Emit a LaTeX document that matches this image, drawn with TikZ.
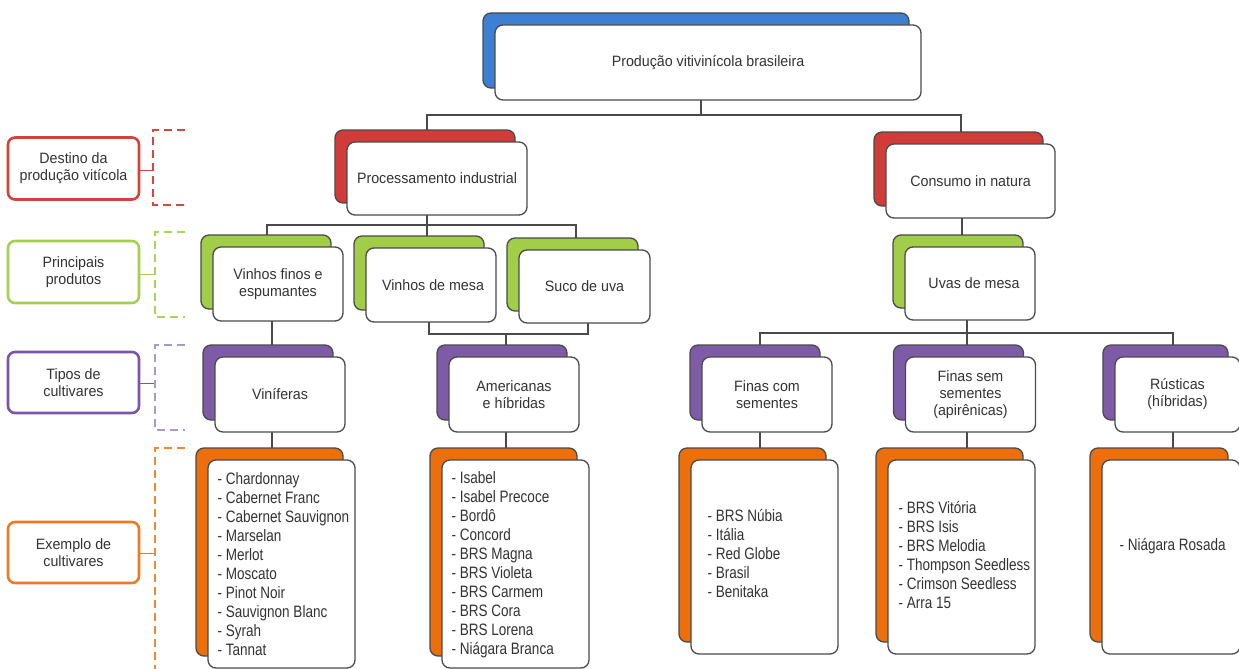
\documentclass[tikz,border=0pt]{standalone}
\usepackage{fontspec}
\setmainfont[FakeStretch=0.95]{Liberation Sans}
\newfontfamily\listfont[FakeStretch=0.82]{Liberation Sans}
\usetikzlibrary{shadows,backgrounds}
\definecolor{edge}{HTML}{4A4A4A}
\definecolor{txt}{HTML}{333333}
\definecolor{cblue}{HTML}{3D7FD3}
\definecolor{cred}{HTML}{D13C38}
\definecolor{cgreen}{HTML}{A2CD48}
\definecolor{cpurple}{HTML}{7D5BA6}
\definecolor{corange}{HTML}{EC6F0C}
\definecolor{lred}{HTML}{D7413C}
\definecolor{lgreen}{HTML}{A3D14F}
\definecolor{lpurple}{HTML}{7B55A8}
\definecolor{lorange}{HTML}{EE7B22}
\definecolor{dred}{HTML}{D9453F}
\definecolor{dgreen}{HTML}{A9D35A}
\definecolor{dpurple}{HTML}{A69BD0}
\definecolor{dorange}{HTML}{EE8A35}
\tikzset{
  front/.style={draw=edge, fill=white, rounded corners=8pt, line width=1.3pt,
    inner sep=0pt, align=center, text=txt,
    font={\fontsize{15}{17}\selectfont}},
  sh/.style={general shadow={fill=#1, draw=edge, line width=1.3pt,
    shadow xshift=-12pt, shadow yshift=12pt}},
  lbl/.style={front, minimum width=130pt, minimum height=75pt},
  lstbox/.style={front, minimum width=147pt},
  lsttext/.style={anchor=west, inner sep=0pt, align=left, text=txt,
    font={\listfont\fontsize{16.5}{19}\selectfont}},
  legbox/.style={draw=#1, line width=2.6pt, rounded corners=7pt, fill=white,
    minimum width=131pt, minimum height=62pt, inner sep=0pt, align=center,
    text=txt, font={\fontsize{15}{17}\selectfont}},
  legline/.style={draw=#1, line width=1pt},
  brk/.style={draw=#1, line width=1.3pt, dash pattern=on 8pt off 5pt},
  conn/.style={draw=edge, line width=1.4pt}
}
\begin{document}
\begin{tikzpicture}[x=1pt,y=-1pt]
\useasboundingbox (0,0) rectangle (1239,669);

% top
\node[front, sh=cblue, minimum width=426pt, minimum height=75pt] (top) at (708,62.5) {Produção vitivinícola brasileira};
% destination
\node[front, sh=cred, minimum width=180pt, minimum height=73pt] (proc) at (437,178.5) {Processamento industrial};
\node[front, sh=cred, minimum width=169pt, minimum height=74pt] (cons) at (970.5,181) {Consumo in natura};
% products
\node[lbl, sh=cgreen, minimum height=74pt] (vf) at (278,284) {Vinhos finos e\\espumantes};
\node[lbl, sh=cgreen, minimum height=74pt] (vm) at (431,285) {\hspace*{4pt}Vinhos de mesa};
\node[lbl, sh=cgreen, minimum width=131pt, minimum height=73pt] (su) at (584.5,286.5) {Suco de uva};
\node[lbl, sh=cgreen, minimum height=73pt] (uv) at (970,283.5) {\hspace*{8pt}Uvas de mesa};
% cultivar types
\node[lbl, sh=cpurple] (vin) at (280,394.5) {Viníferas};
\node[lbl, sh=cpurple] (am) at (514,394.5) {Americanas\\e híbridas};
\node[lbl, sh=cpurple] (fc) at (767,394.5) {Finas com\\sementes};
\node[lbl, sh=cpurple] (fs) at (970.5,394.5) {Finas sem\\sementes\\(apirênicas)};
\node[lbl, sh=cpurple, minimum width=125pt] (ru) at (1177.5,394.5) {Rústicas\\(híbridas)};
% list boxes
\node[lstbox, sh=corange, minimum height=208pt] (lvin) at (281.5,564) {};
\node[lstbox, sh=corange, minimum height=208pt] (lam) at (515.5,564) {};
\node[lstbox, sh=corange, minimum height=194pt] (lfc) at (764.5,557) {};
\node[lstbox, sh=corange, minimum height=194pt] (lfs) at (961.5,557) {};
\node[lstbox, sh=corange, minimum width=138pt, minimum height=194pt] (lru) at (1171,557) {};
% list texts
\node[lsttext] (tvin) at ([xshift=10pt]lvin.west) {- Chardonnay\\- Cabernet Franc\\- Cabernet Sauvignon\\- Marselan\\- Merlot\\- Moscato\\- Pinot Noir\\- Sauvignon Blanc\\- Syrah\\- Tannat};
\node[lsttext] (tam) at ([xshift=10pt,yshift=-1pt]lam.west) {- Isabel\\- Isabel Precoce\\- Bordô\\- Concord\\- BRS Magna\\- BRS Violeta\\- BRS Carmem\\- BRS Cora\\- BRS Lorena\\- Niágara Branca};
\node[lsttext] (tfc) at ([xshift=17pt,yshift=3.5pt]lfc.west) {- BRS Núbia\\- Itália\\- Red Globe\\- Brasil\\- Benitaka};
\node[lsttext] (tfs) at ([xshift=11pt,yshift=2pt]lfs.west) {- BRS Vitória\\- BRS Isis\\- BRS Melodia\\- Thompson Seedless\\- Crimson Seedless\\- Arra 15};
\node[lsttext] (tru) at ([xshift=18pt,yshift=11pt]lru.west) {- Niágara Rosada};

% legend
\node[legbox=lred] (leg1) at (73.5,168.5) {Destino da\\produção vitícola};
\node[legbox=lgreen] (leg2) at (73.5,272) {Principais\\produtos};
\node[legbox=lpurple, minimum height=61pt] (leg3) at (73.5,382.5) {Tipos de\\cultivares};
\node[legbox=lorange, minimum height=61pt] (leg4) at (73.5,552.5) {Exemplo de\\cultivares};
\coordinate (b1) at (153,170);
\coordinate (b2) at (155,274);
\coordinate (b3) at (155,383);
\coordinate (b4) at (155,553);
\draw[legline=lred] (leg1.east |- b1) -- (b1);
\draw[legline=lgreen] (leg2.east |- b2) -- (b2);
\draw[legline=lpurple] (leg3.east |- b3) -- (b3);
\draw[legline=lorange] (leg4.east |- b4) -- (b4);
\draw[brk=dred] (185,130) -| (153,205) -- (185,205);
\draw[brk=dgreen] (185,232) -| (155,317) -- (185,317);
\draw[brk=dpurple] (185,345) -| (155,430) -- (185,430);
\draw[brk=dorange] (185,448) -| (155,669);

\begin{scope}[on background layer]
\draw[conn] (top.center -| 701,0) |- (427,115) -- (proc.center -| 427,0);
\draw[conn] (701,115) -| (cons.center -| 961,0);
\draw[conn] (proc.center -| 427,0) |- (267,225) -- (vf.center -| 267,0);
\draw[conn] (427,225) -| (su.center -| 576,0);
\draw[conn] (427,225) -- (vm.center -| 427,0);
\draw[conn] (vf.center -| 272,0) -- (lvin.center -| 272,0);
\draw[conn] (vm.center -| 429,0) |- (588,334) -- (su.center -| 588,0);
\draw[conn] (506,334) -- (lam.center -| 506,0);
\draw[conn] (cons.center -| 962,0) -- (uv.center -| 962,0);
\draw[conn] (uv.center -| 967,0) -- (lfs.center -| 967,0);
\draw[conn] (fc.center -| 760,0) |- (1173,333) -- (lru.center -| 1173,0);
\draw[conn] (fc.center -| 760,0) -- (lfc.center -| 760,0);
\end{scope}
\end{tikzpicture}
\end{document}
